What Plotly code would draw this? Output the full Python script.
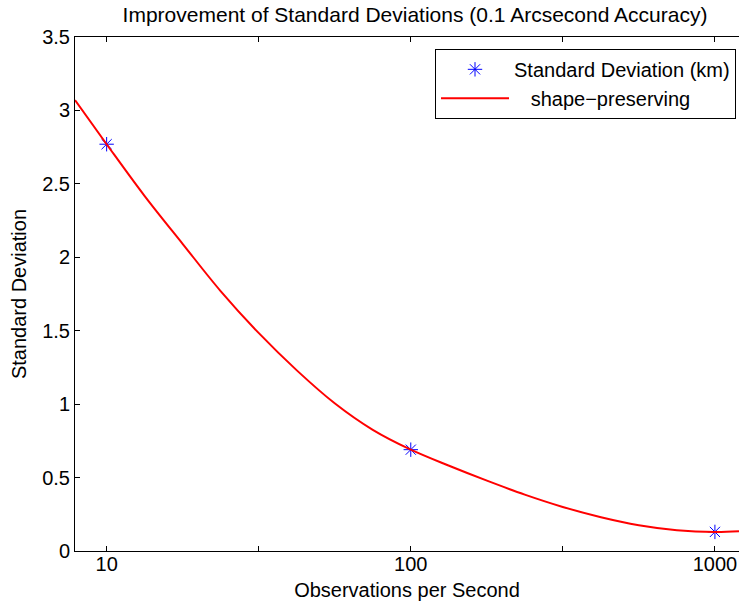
import plotly.graph_objects as go
import math

# Measured data points
obs_rate = [10, 100, 1000]
std_dev = [2.77, 0.69, 0.13]

# Shape-preserving fit curve
fit_x = [7.87, 10, 13.3, 17.8, 23.7, 31.6, 42.2, 56.2, 75, 100,
         133, 178, 237, 316, 422, 562, 750, 1000, 1200]
fit_y = [3.07, 2.77, 2.42, 2.09, 1.77, 1.485, 1.23, 1.006, 0.825, 0.69,
         0.582, 0.479, 0.384, 0.300, 0.230, 0.176, 0.142, 0.13, 0.135]

x_tickvals = [10, 31.62, 100, 316.2, 1000]
x_ticktext = ["10", "", "100", "", "1000"]
y_tickvals = [0, 0.5, 1, 1.5, 2, 2.5, 3, 3.5]
y_ticktext = ["0", "0.5", "1", "1.5", "2", "2.5", "3", "3.5"]

FONT = "Liberation Sans, Arial, sans-serif"

fig = go.Figure()
fig.add_trace(go.Scatter(
    x=obs_rate, y=std_dev, mode="markers",
    name="Standard Deviation (km)",
    marker=dict(symbol="asterisk-open", size=12, color="blue",
                line=dict(color="blue", width=1)),
))
fig.add_trace(go.Scatter(
    x=fit_x, y=fit_y, mode="lines", name="   shape\u2212preserving",
    line=dict(color="red", width=2, shape="spline"),
))

fig.update_layout(
    width=739, height=608,
    margin=dict(l=75, r=0, t=37, b=57),
    paper_bgcolor="white", plot_bgcolor="white",
    font=dict(family=FONT, size=20, color="black"),
    title=dict(text="Improvement of Standard Deviations (0.1 Arcsecond Accuracy)",
               x=415 / 739, xref="container", xanchor="center",
               y=1 - 15 / 608, yref="container", yanchor="middle",
               font=dict(family=FONT, size=21, color="black")),
    showlegend=True,
    legend=dict(x=0.9955, xanchor="right", y=0.977, yanchor="top",
                bordercolor="black", borderwidth=1, bgcolor="white",
                font=dict(family=FONT, size=20, color="black"),
                tracegroupgap=0, itemwidth=68),
)
fig.update_xaxes(
    type="log", range=[math.log10(7.87), math.log10(1200)],
    tickvals=x_tickvals, ticktext=x_ticktext,
    ticks="inside", ticklen=5, tickcolor="black",
    ticklabelstandoff=-5,
    showline=True, linecolor="black", linewidth=1, mirror="ticks",
    showgrid=False, zeroline=False,
    title=dict(text="Observations per Second", standoff=8,
               font=dict(family=FONT, size=20)),
)
fig.update_yaxes(
    range=[0, 3.5], tickvals=y_tickvals, ticktext=y_ticktext,
    ticks="inside", ticklen=5, tickcolor="black",
    showline=True, linecolor="black", linewidth=1, mirror=False,
    showgrid=False, zeroline=False,
    title=dict(text="Standard Deviation", standoff=10,
               font=dict(family=FONT, size=20)),
)

fig.write_html("out.html", config={"displayModeBar": False},
               post_script="document.body.style.margin='0';")
